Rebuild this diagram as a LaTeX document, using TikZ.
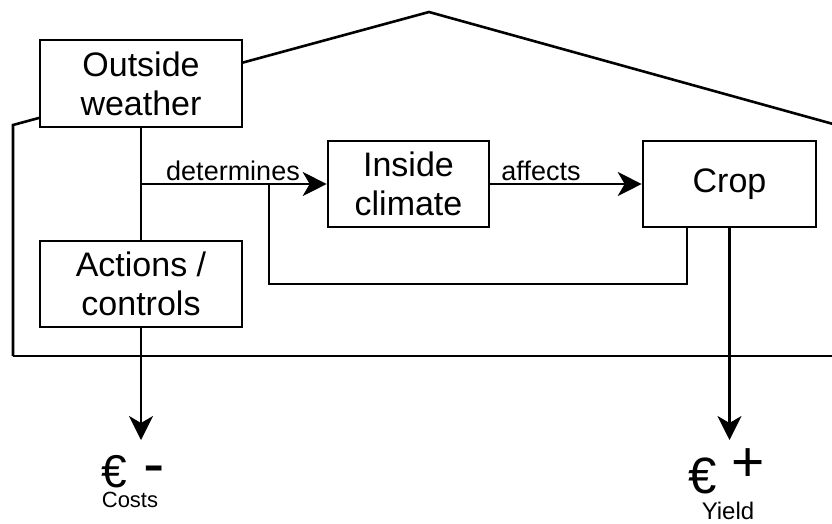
\documentclass[tikz,border=0pt]{standalone}
\usepackage{fontspec}
\setmainfont{Liberation Sans}
\usetikzlibrary{arrows.meta}

\tikzset{
  line/.style={line width=2.6pt, draw=black},
  box/.style={line, fill=white, inner sep=0pt, align=center,
              font=\fontsize{34}{39}\selectfont},
  arrow/.style={line, -{Stealth[length=24pt,width=24pt,inset=7pt]}},
  edgelabel/.style={inner sep=0pt, anchor=base, font=\fontsize{27}{30}\selectfont},
  plain/.style={inner sep=0pt, anchor=base west},
}

\begin{document}
\begin{tikzpicture}[x=1pt, y=-1pt]
  \useasboundingbox (0,0) rectangle (832,523);
  \clip (0,0) rectangle (832,523);

  % greenhouse outline
  \draw[line, line join=miter] (13,356) -- (13,125) -- (429,12) -- (880,137);
  \draw[line] (13,356) -- (880,356);

  % blocks
  \node[box, minimum width=202pt, minimum height=87pt] (ow) at (141,83.5) {Outside\\weather};
  \node[box, minimum width=202pt, minimum height=86pt] (ac) at (141,284) {Actions /\\controls};
  \node[box, minimum width=161pt, minimum height=86pt] (ic) at (408.5,184) {Inside\\climate};
  \node[box, minimum width=173pt, minimum height=86pt] (crop) at (729.5,184) {Crop};

  % helper points
  \coordinate (fbr) at (687,284);
  \coordinate (fbl) at (269,284);
  \coordinate (ctip) at (141,440);
  \coordinate (ytip) at (729.5,440);

  % connectors
  \draw[line] (ow.south) -- (ac.north);
  \draw[arrow] (ow.south |- ic.west) -- (ic.west);
  \draw[arrow] (ic.east) -- (crop.west);
  \draw[line] (crop.south -| fbr) -- (fbr) -- (fbl) -- (fbl |- ic.west);
  \draw[arrow] (ac.south) -- (ctip);
  \draw[arrow] (crop.south) -- (ytip);

  % edge labels
  \node[edgelabel] (lbldet) at (233,180) {determines};
  \node[edgelabel] (lblaff) at (541,180) {affects};

  % money outcomes
  \node[plain, font=\fontsize{46}{46}\selectfont] (ceur) at (101,487) {€};
  \node[plain, font=\fontsize{64}{64}\selectfont] (cminus) at (143,485) {-};
  \node[inner sep=0pt, anchor=base, font=\fontsize{22}{22}\selectfont] (costs) at (130,507) {Costs};

  \node[plain, font=\fontsize{51}{51}\selectfont] (yeur) at (688,493) {€};
  \node[plain, font=\fontsize{57}{57}\selectfont] (yplus) at (731,481) {+};
  \node[inner sep=0pt, anchor=base, font=\fontsize{24}{24}\selectfont] (yield) at (728,519) {Yield};
\end{tikzpicture}
\end{document}
